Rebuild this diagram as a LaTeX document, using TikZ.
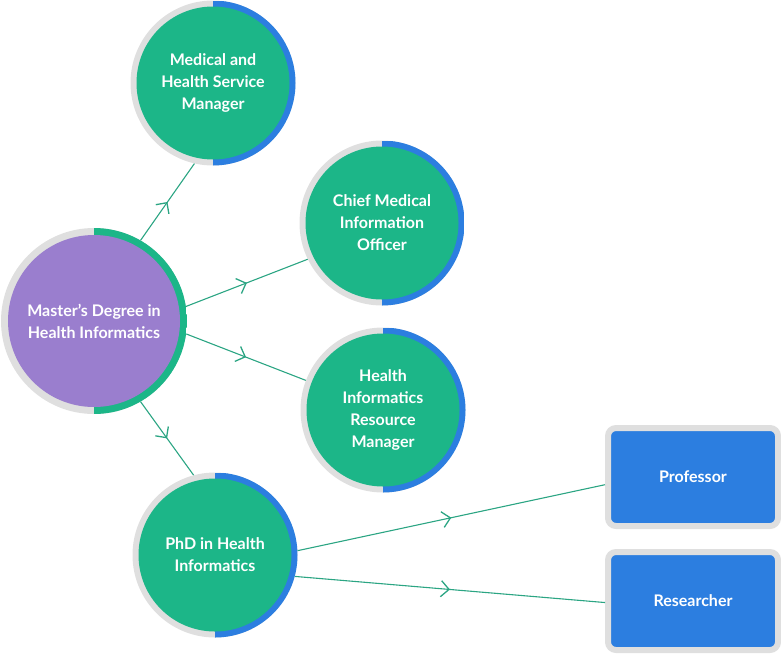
\documentclass[tikz,border=0pt]{standalone}
\usepackage{fontspec}
\setmainfont{Lato}
\usetikzlibrary{arrows.meta,decorations.markings}
\definecolor{ringgray}{HTML}{DFDFDF}
\definecolor{purp}{HTML}{9A7ECE}
\definecolor{grn}{HTML}{1CB688}
\definecolor{blu}{HTML}{2C7EE0}
\definecolor{linegrn}{HTML}{2BA583}
\begin{document}
\begin{tikzpicture}[x=1pt,y=-1pt,
  ringnode/.style n args={4}{circle, inner sep=0pt, minimum size={2*#1pt},
    text=white, align=center, font=\bfseries\fontsize{16}{22}\selectfont,
    path picture={
      \fill[ringgray] (path picture bounding box.center) circle (#1);
      \fill[#3] (path picture bounding box.north) rectangle (path picture bounding box.south east);
      \fill[#4] (path picture bounding box.center) circle (#2);
    }},
  boxnode/.style={rectangle, fill=blu, draw=ringgray, line width=6pt, rounded corners=8pt,
    minimum width=170pt, minimum height=98pt, text=white, font=\bfseries\fontsize{16}{22}\selectfont},
  link/.style={draw=linegrn, line width=1.1pt,
    postaction={decorate},
    decoration={markings, mark=at position 0.5 with {\arrow[linegrn, line width=1.3pt]{Straight Barb[length=8pt,width=16pt]}}}}
]
\useasboundingbox (0,0) rectangle (781,654);

\node[ringnode={93}{86}{grn}{purp}] (m) at (94,321) {Master’s Degree in\\Health Informatics};
\node[ringnode={82.5}{76.5}{blu}{grn}] (med) at (213,83) {Medical and\\Health Service\\Manager};
\node[ringnode={82.5}{76.5}{blu}{grn}] (cmio) at (382,223) {Chief Medical\\Information\\Officer};
\node[ringnode={82.5}{76.5}{blu}{grn}] (hirm) at (383,410) {Health\\Informatics\\Resource\\Manager};
\node[ringnode={82.5}{76.5}{blu}{grn}] (phd) at (215,555) {PhD in Health\\Informatics};

\node[boxnode] (prof) at (693,477) {Professor};
\node[boxnode] (res) at (693,601) {Researcher};

\draw[link] (m.60) -- (med.257.5);
\draw[link] (m.9) -- (cmio.206);
\draw[link] (m.-8.6) -- (hirm.159);
\draw[link] (m.-60) -- (phd.105);
\draw[link] (phd.3.4) -- (prof.185.2);
\draw[link] (phd.-15) -- (res.181.3);
\end{tikzpicture}
\end{document}
